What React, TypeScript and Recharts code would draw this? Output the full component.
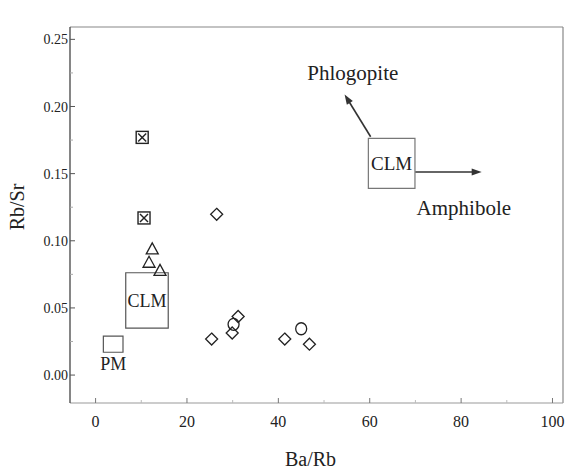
import React from 'react';
import {
  ScatterChart,
  Scatter,
  XAxis,
  YAxis,
  ReferenceArea,
  ReferenceLine,
  ReferenceDot,
} from 'recharts';

const FONT = "'Liberation Serif', 'Times New Roman', serif";
const INK = '#222';

// axis setup
const xDomain: [number, number] = [-5.6, 102.3];
const yDomain: [number, number] = [-0.0208, 0.2592];
const xTicks = [0, 10, 20, 30, 40, 50, 60, 70, 80, 90, 100];
const xMajorTicks = [0, 20, 40, 60, 80, 100];
const yTicks = [0, 0.025, 0.05, 0.075, 0.1, 0.125, 0.15, 0.175, 0.2, 0.225, 0.25];
const yMajorTicks = [0, 0.05, 0.1, 0.15, 0.2, 0.25];

// samples
const crossedSquares = [
  { x: 10.2, y: 0.177 },
  { x: 10.6, y: 0.117 },
];
const triangles = [
  { x: 12.4, y: 0.094 },
  { x: 11.7, y: 0.084 },
  { x: 14.1, y: 0.078 },
];
const diamonds = [
  { x: 26.5, y: 0.1197 },
  { x: 25.4, y: 0.0268 },
  { x: 29.9, y: 0.0313 },
  { x: 31.2, y: 0.0436 },
  { x: 41.4, y: 0.0268 },
  { x: 46.8, y: 0.023 },
];
const circles = [
  { x: 30.2, y: 0.0378 },
  { x: 45.0, y: 0.0345 },
];

// reservoir boxes
const clmLowerBox = { x1: 6.6, x2: 15.9, y1: 0.035, y2: 0.0762 };
const pmBox = { x1: 1.7, x2: 6.0, y1: 0.017, y2: 0.029 };
const clmUpperBox = { x1: 59.7, x2: 69.9, y1: 0.139, y2: 0.1762 };

// trend arrows
const phlogopiteArrow = [
  { x: 60.2, y: 0.1775 },
  { x: 54.5, y: 0.209 },
];
const amphiboleArrow = [
  { x: 70.0, y: 0.1512 },
  { x: 84.5, y: 0.1512 },
];
const phlogopiteText = { x: 56.3, y: 0.2255, text: 'Phlogopite' };
const amphiboleText = { x: 80.6, y: 0.1245, text: 'Amphibole' };

const isMajor = (v: number, majors: number[]) => majors.some((m) => Math.abs(m - v) < 1e-9);

const textStyle = { fontFamily: FONT };

const YTick = (props: any) => {
  const { x, y, payload } = props;
  const v = payload.value as number;
  const major = isMajor(v, yMajorTicks);
  return (
    <g>
      <line x1={x} y1={y} x2={x + (major ? 5 : 3)} y2={y} stroke={major ? '#555' : '#aaa'} strokeWidth={1} />
      {major && (
        <text x={x - 2} y={y} dy="0.36em" textAnchor="end" style={{ ...textStyle, fontSize: 14 }} fill={INK}>
          {v.toFixed(2)}
        </text>
      )}
    </g>
  );
};

const XTick = (props: any) => {
  const { x, y, payload } = props;
  const v = payload.value as number;
  const major = isMajor(v, xMajorTicks);
  return (
    <g>
      <line x1={x} y1={y} x2={x} y2={y - (major ? 5 : 3)} stroke={major ? '#777' : '#bbb'} strokeWidth={1} />
      {major && (
        <text x={x} y={y + 18} dy="0.36em" textAnchor="middle" style={{ ...textStyle, fontSize: 16 }} fill={INK}>
          {v}
        </text>
      )}
    </g>
  );
};

const CrossedSquare = (p: any) => {
  const { cx, cy } = p;
  const h = 6;
  return (
    <g stroke={INK} strokeWidth={1.4} fill="none">
      <rect x={cx - h} y={cy - h} width={2 * h} height={2 * h} />
      <line x1={cx - h + 2} y1={cy - h + 2} x2={cx + h - 2} y2={cy + h - 2} />
      <line x1={cx + h - 2} y1={cy - h + 2} x2={cx - h + 2} y2={cy + h - 2} />
    </g>
  );
};

const Triangle = (p: any) => {
  const { cx, cy } = p;
  const w = 6;
  return (
    <polygon
      points={`${cx},${cy - 6} ${cx - w},${cy + 5} ${cx + w},${cy + 5}`}
      fill="none"
      stroke={INK}
      strokeWidth={1.3}
    />
  );
};

const Diamond = (p: any) => {
  const { cx, cy } = p;
  const r = 6;
  return (
    <polygon
      points={`${cx},${cy - r} ${cx + r},${cy} ${cx},${cy + r} ${cx - r},${cy}`}
      fill="none"
      stroke={INK}
      strokeWidth={1.3}
    />
  );
};

const Circle = (p: any) => {
  const { cx, cy } = p;
  return <ellipse cx={cx} cy={cy} rx={5.5} ry={6} fill="none" stroke={INK} strokeWidth={1.3} />;
};

const Arrow = (p: any) => {
  const { x1, y1, x2, y2 } = p;
  if ([x1, y1, x2, y2].some((v) => typeof v !== 'number' || isNaN(v))) return null;
  const ang = Math.atan2(y2 - y1, x2 - x1);
  const L = 10;
  const W = 3.5;
  const bx = x2 - L * Math.cos(ang);
  const by = y2 - L * Math.sin(ang);
  const px = -Math.sin(ang) * W;
  const py = Math.cos(ang) * W;
  return (
    <g>
      <line x1={x1} y1={y1} x2={bx + 2 * Math.cos(ang)} y2={by + 2 * Math.sin(ang)} stroke="#333" strokeWidth={1.6} />
      <polygon points={`${x2},${y2} ${bx + px},${by + py} ${bx - px},${by - py}`} fill="#333" />
    </g>
  );
};

const YAxisLabel = (props: any) => {
  const vb = props.viewBox || { x: 0, y: 27, width: 70, height: 376 };
  const cx = vb.x + 17;
  const cy = vb.y + vb.height / 2 - 8;
  return (
    <text
      x={cx}
      y={cy}
      transform={`rotate(-90 ${cx} ${cy})`}
      textAnchor="middle"
      dy="0.36em"
      style={{ ...textStyle, fontSize: 20 }}
      fill={INK}
    >
      Rb/Sr
    </text>
  );
};

const XAxisLabel = (props: any) => {
  const vb = props.viewBox || { x: 70, y: 403, width: 493, height: 73 };
  const cx = vb.x + vb.width / 2 - 6;
  const cy = vb.y + 56;
  return (
    <text x={cx} y={cy} textAnchor="middle" dy="0.36em" style={{ ...textStyle, fontSize: 20 }} fill={INK}>
      Ba/Rb
    </text>
  );
};

export default function App() {
  return (
    <div style={{ position: 'absolute', left: 0, top: 0, width: 568, height: 476, background: '#fff', fontFamily: FONT }}>
      <ScatterChart width={568} height={476} margin={{ top: 27, right: 5, bottom: 0, left: 0 }} style={{ fontFamily: FONT }}>
        <XAxis
          type="number"
          dataKey="x"
          domain={xDomain}
          ticks={xTicks}
          interval={0}
          allowDataOverflow
          tickSize={0}
          tickMargin={0}
          tickLine={false}
          tick={<XTick />}
          height={73}
          axisLine={{ stroke: '#999', strokeWidth: 1 }}
          label={<XAxisLabel />}
        />
        <YAxis
          type="number"
          dataKey="y"
          domain={yDomain}
          ticks={yTicks}
          interval={0}
          allowDataOverflow
          tickSize={0}
          tickMargin={0}
          tickLine={false}
          tick={<YTick />}
          width={70}
          axisLine={{ stroke: '#444', strokeWidth: 1.3 }}
          label={<YAxisLabel />}
        />
        <ReferenceLine y={yDomain[1]} stroke="#888" strokeWidth={1.2} ifOverflow="visible" />
        <ReferenceLine x={xDomain[1]} stroke="#888" strokeWidth={1.2} ifOverflow="visible" />

        <ReferenceArea
          x1={clmLowerBox.x1}
          x2={clmLowerBox.x2}
          y1={clmLowerBox.y1}
          y2={clmLowerBox.y2}
          fill="none"
          fillOpacity={0}
          stroke="#555"
          strokeWidth={1.2}
          label={{ value: 'CLM', position: 'center', style: { fontFamily: FONT }, fontSize: 18, fill: INK }}
        />
        <ReferenceArea
          x1={pmBox.x1}
          x2={pmBox.x2}
          y1={pmBox.y1}
          y2={pmBox.y2}
          fill="none"
          fillOpacity={0}
          stroke="#555"
          strokeWidth={1.2}
          label={{ value: 'PM', position: 'bottom', offset: 5, style: { fontFamily: FONT }, fontSize: 18, fill: INK }}
        />
        <ReferenceArea
          x1={clmUpperBox.x1}
          x2={clmUpperBox.x2}
          y1={clmUpperBox.y1}
          y2={clmUpperBox.y2}
          fill="none"
          fillOpacity={0}
          stroke="#777"
          strokeWidth={1.2}
          label={{ value: 'CLM', position: 'center', style: { fontFamily: FONT }, fontSize: 19, fill: INK }}
        />
        <ReferenceLine segment={phlogopiteArrow} shape={<Arrow />} ifOverflow="visible" />
        <ReferenceLine segment={amphiboleArrow} shape={<Arrow />} ifOverflow="visible" />
        <ReferenceDot
          x={phlogopiteText.x}
          y={phlogopiteText.y}
          r={0}
          fill="none"
          stroke="none"
          label={{ value: phlogopiteText.text, position: 'center', style: { fontFamily: FONT }, fontSize: 21, fill: INK }}
        />
        <ReferenceDot
          x={amphiboleText.x}
          y={amphiboleText.y}
          r={0}
          fill="none"
          stroke="none"
          label={{ value: amphiboleText.text, position: 'center', style: { fontFamily: FONT }, fontSize: 21, fill: INK }}
        />

        <Scatter data={crossedSquares} shape={<CrossedSquare />} isAnimationActive={false} />
        <Scatter data={triangles} shape={<Triangle />} isAnimationActive={false} />
        <Scatter data={diamonds} shape={<Diamond />} isAnimationActive={false} />
        <Scatter data={circles} shape={<Circle />} isAnimationActive={false} />
      </ScatterChart>
    </div>
  );
}
